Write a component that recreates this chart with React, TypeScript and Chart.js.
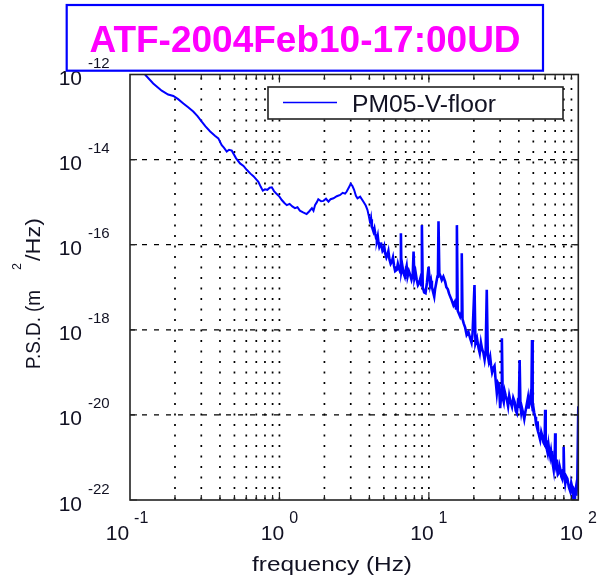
import React, { useEffect, useRef } from 'react';
import { Chart, registerables } from 'chart.js';
Chart.register(...registerables);

const TITLE = 'ATF-2004Feb10-17:00UD';
const SERIES_LABEL = 'PM05-V-floor';
const X_TITLE = 'frequency (Hz)';
const Y_TITLE_A = 'P.S.D. (m';
const Y_TITLE_SUP = '2';
const Y_TITLE_B = '/Hz)';

// frequency (Hz)
const freqs = [
  0.126, 0.143, 0.163, 0.18, 0.195, 0.21, 0.2275, 0.245, 0.265, 0.283,
  0.302, 0.32, 0.344, 0.37, 0.39, 0.411, 0.425, 0.444, 0.46, 0.48,
  0.513, 0.545, 0.575, 0.604, 0.64, 0.67, 0.723, 0.75, 0.774, 0.8,
  0.83, 0.86, 0.889, 0.92, 0.96, 1.0, 1.037, 1.08, 1.12, 1.17,
  1.22, 1.27, 1.32, 1.37, 1.44, 1.52, 1.58, 1.65, 1.69, 1.73,
  1.78, 1.82, 1.9, 1.97, 2.05, 2.13, 2.2, 2.3, 2.42, 2.55,
  2.65, 2.75, 2.82, 2.92, 3.0, 3.08, 3.16, 3.25, 3.33, 3.47,
  3.65, 3.78, 3.88, 3.95, 4.05, 4.1, 4.15, 4.2, 4.26, 4.32,
  4.38, 4.44, 4.49, 4.55, 4.6, 4.66, 4.72, 4.78, 4.85, 4.9,
  4.97, 5.03, 5.1, 5.2, 5.28, 5.36, 5.45, 5.55, 5.65, 5.75,
  5.85, 5.95, 6.1, 6.2, 6.3, 6.45, 6.5, 6.55, 6.65, 6.77,
  6.9, 7.0, 7.1, 7.2, 7.35, 7.5, 7.65, 7.8, 7.9, 8.0,
  8.15, 8.3, 8.45, 8.6, 8.75, 8.9, 8.98, 9.1, 9.3, 9.5,
  9.7, 9.95, 10.2, 10.35, 10.48, 10.65, 10.86, 11.0, 11.2, 11.4,
  11.5, 11.6, 11.75, 12.0, 12.2, 12.5, 12.85, 13.1, 13.4, 13.65,
  13.9, 14.2, 14.6, 14.9, 15.2, 15.4, 15.6, 15.9, 16.2, 16.5,
  16.6, 16.8, 17.1, 17.5, 17.9, 18.4, 18.9, 19.3, 19.6, 20.2,
  20.5, 21.0, 21.5, 21.9, 22.3, 22.7, 23.2, 23.6, 24.0, 24.4,
  24.8, 25.2, 25.7, 26.1, 26.5, 27.0, 27.5, 28.0, 28.5, 29.0,
  29.5, 30.0, 30.5, 30.8, 31.2, 31.7, 32.2, 32.7, 33.3, 33.9,
  34.5, 35.2, 36.0, 36.7, 37.5, 38.1, 38.8, 39.4, 40.0, 40.5,
  41.0, 41.5, 42.0, 42.7, 43.5, 44.4, 45.3, 46.0, 46.5, 47.1,
  47.7, 48.5, 49.0, 49.5, 50.0, 50.7, 51.5, 52.1, 52.8, 53.4,
  54.0, 54.8, 55.6, 56.5, 57.5, 58.5, 59.5, 60.0, 60.5, 61.1,
  61.7, 62.4, 63.2, 64.0, 64.9, 65.7, 66.5, 67.4, 68.4, 69.0,
  69.5, 70.0, 70.5, 71.2, 72.0, 72.9, 73.8, 74.9, 76.0, 77.0,
  78.0, 79.0, 79.8, 80.5, 81.8, 83.1, 84.5, 86.5, 88.4, 89.7,
  91.0, 92.0, 93.0, 94.0, 95.0, 96.0, 97.0, 98.5, 100,
];

// log10 of the PSD (m^2/Hz)
const logPsd = [
  -12.0, -12.21, -12.38, -12.47, -12.505, -12.58, -12.68, -12.77, -12.87, -12.98,
  -13.11, -13.22, -13.34, -13.44, -13.5, -13.66, -13.72, -13.81, -13.77, -13.79,
  -13.97, -14.09, -14.15, -14.24, -14.33, -14.39, -14.52, -14.64, -14.73, -14.7,
  -14.71, -14.66, -14.65, -14.74, -14.81, -14.87, -14.95, -15.02, -15.07, -15.04,
  -15.1, -15.14, -15.12, -15.2, -15.24, -15.28, -15.22, -15.14, -15.2, -15.07,
  -15.0, -14.93, -14.98, -14.97, -14.92, -14.99, -14.93, -14.91, -14.86, -14.83,
  -14.78, -14.8, -14.75, -14.65, -14.57, -14.62, -14.71, -14.85, -14.91, -14.87,
  -14.99, -15.08, -15.18, -15.3, -15.5, -15.4, -15.58, -15.62, -15.69, -15.62,
  -15.75, -15.85, -15.89, -15.8, -15.95, -16.05, -16.0, -15.95, -16.08, -16.15,
  -16.12, -16.05, -16.2, -16.3, -16.24, -16.15, -16.35, -16.45, -16.4, -16.3,
  -16.5, -16.62, -16.59, -16.45, -16.55, -16.65, -15.73, -16.62, -16.5, -16.67,
  -16.75, -16.6, -16.5, -16.75, -16.62, -16.71, -16.82, -16.7, -16.16, -16.78,
  -16.65, -16.83, -16.95, -16.9, -16.8, -16.95, -15.54, -17.0, -17.12, -17.14,
  -16.9, -16.52, -16.95, -16.85, -16.99, -17.1, -17.22, -17.05, -16.9, -16.75,
  -16.7, -15.45, -16.67, -16.75, -16.83, -16.75, -16.87, -17.0, -17.05, -17.15,
  -17.22, -17.3, -17.42, -17.35, -17.5, -15.54, -17.55, -17.62, -17.69, -17.6,
  -16.2, -17.75, -17.85, -17.95, -18.12, -18.05, -18.2, -18.3, -18.1, -16.95,
  -18.32, -18.2, -18.43, -18.55, -18.3, -18.45, -18.55, -18.7, -18.5, -17.06,
  -18.6, -18.75, -18.63, -18.85, -19.0, -18.9, -18.85, -19.2, -19.49, -19.25,
  -19.3, -19.84, -19.5, -18.2, -19.6, -19.7, -19.45, -19.55, -19.65, -19.8,
  -19.55, -19.7, -19.81, -19.6, -19.7, -19.9, -19.96, -19.7, -19.75, -18.71,
  -19.8, -19.95, -19.84, -19.95, -20.1, -19.9, -19.73, -19.6, -19.85, -19.7,
  -19.57, -19.7, -18.24, -19.9, -19.81, -19.95, -20.05, -20.2, -20.28, -20.15,
  -20.4, -20.5, -20.59, -20.4, -20.5, -20.65, -20.7, -19.88, -20.75, -20.6,
  -20.82, -20.9, -20.7, -20.85, -20.98, -20.85, -21.0, -21.15, -21.29, -21.05,
  -21.1, -20.43, -21.2, -21.05, -21.25, -21.4, -21.37, -21.2, -21.3, -21.45,
  -21.5, -21.3, -20.75, -21.4, -21.61, -21.45, -21.5, -21.7, -21.8, -21.6,
  -21.7, -21.85, -22.0, -21.8, -21.85, -21.75, -21.9, -21.53, -19.8,
];

const xMajorTicks = [0.1, 1, 10, 100];
const xMajorExps = ['-1', '0', '1', '2'];
const xGridTicks = [
  0.2, 0.3, 0.4, 0.5, 0.6, 0.7, 0.8, 0.9, 1,
  2, 3, 4, 5, 6, 7, 8, 9, 10,
  20, 30, 40, 50, 60, 70, 80, 90,
];
const yTicks = [1e-12, 1e-14, 1e-16, 1e-18, 1e-20, 1e-22];
const yTickExps = ['-12', '-14', '-16', '-18', '-20', '-22'];

const FONT = "'Liberation Sans', Arial, sans-serif";
const TEXT = '#111122';

function fitText(ctx: CanvasRenderingContext2D, text: string, x: number, y: number, w: number) {
  const m = ctx.measureText(text).width;
  ctx.save();
  ctx.translate(x, y);
  ctx.scale(w / m, 1);
  ctx.textAlign = 'left';
  ctx.fillText(text, 0, 0);
  ctx.restore();
}

const decor = {
  id: 'decor',
  beforeDatasetsDraw(chart: any) {
    const { ctx, chartArea: a, scales } = chart;
    const x = scales.x, y = scales.y;
    ctx.save();
    ctx.strokeStyle = '#000';
    ctx.lineWidth = 1.7;
    ctx.setLineDash([2, 8.5]);
    for (const v of xGridTicks) {
      const px = x.getPixelForValue(v);
      ctx.beginPath();
      ctx.moveTo(px, a.top + 3);
      ctx.lineTo(px, a.bottom);
      ctx.stroke();
    }
    ctx.lineWidth = 1.2;
    ctx.setLineDash([5, 7]);
    for (const v of yTicks) {
      const py = y.getPixelForValue(v);
      if (py <= a.top + 1 || py >= a.bottom - 1) continue;
      ctx.beginPath();
      ctx.moveTo(a.left, py);
      ctx.lineTo(a.right, py);
      ctx.stroke();
    }
    ctx.restore();
  },
  afterDatasetsDraw(chart: any) {
    const { ctx, chartArea: a, scales } = chart;
    const x = scales.x, y = scales.y;
    ctx.save();
    ctx.setLineDash([]);
    ctx.strokeStyle = '#222';
    ctx.lineWidth = 1.6;
    ctx.strokeRect(a.left, a.top, a.right - a.left, a.bottom - a.top);
    ctx.lineWidth = 1.2;
    for (const v of yTicks) {
      const py = y.getPixelForValue(v);
      ctx.beginPath();
      ctx.moveTo(a.left, py); ctx.lineTo(a.left + 7, py);
      ctx.moveTo(a.right, py); ctx.lineTo(a.right - 7, py);
      ctx.stroke();
    }
    for (const v of xGridTicks) {
      const px = x.getPixelForValue(v);
      const len = (v === 1 || v === 10) ? 8 : 5;
      ctx.beginPath();
      ctx.moveTo(px, a.top); ctx.lineTo(px, a.top + len);
      ctx.moveTo(px, a.bottom); ctx.lineTo(px, a.bottom - len);
      ctx.stroke();
    }
    ctx.fillStyle = TEXT;
    ctx.textBaseline = 'alphabetic';
    yTicks.forEach((v, i) => {
      const py = y.getPixelForValue(v);
      ctx.font = `21px ${FONT}`;
      ctx.textAlign = 'right';
      ctx.fillText('10', 82, py + 10.5);
      ctx.font = `15px ${FONT}`;
      ctx.textAlign = 'left';
      ctx.fillText(yTickExps[i], 88, py - 6.5);
    });
    xMajorTicks.forEach((v, i) => {
      const px = x.getPixelForValue(v);
      ctx.font = `21px ${FONT}`;
      const w1 = ctx.measureText('10').width;
      ctx.font = `16px ${FONT}`;
      const w2 = ctx.measureText(xMajorExps[i]).width;
      const gap = 5;
      const start = px - (w1 + gap + w2) / 2 - (i === 0 ? 3 : 0);
      ctx.textAlign = 'left';
      ctx.font = `21px ${FONT}`;
      ctx.fillText('10', start, 540);
      ctx.font = `16px ${FONT}`;
      ctx.fillText(xMajorExps[i], start + w1 + gap, 523);
    });
    ctx.font = `20px ${FONT}`;
    fitText(ctx, X_TITLE, 252, 571, 160);
    ctx.save();
    ctx.translate(40, 0);
    ctx.rotate(-Math.PI / 2);
    ctx.font = `21px ${FONT}`;
    fitText(ctx, Y_TITLE_A, -369, 0, 79);
    ctx.font = `12px ${FONT}`;
    fitText(ctx, Y_TITLE_SUP, -270, -19, 7);
    ctx.font = `21px ${FONT}`;
    fitText(ctx, Y_TITLE_B, -261, 0, 43);
    ctx.restore();
    const lx = 268, ly = 87, lw = 295, lh = 32;
    ctx.fillStyle = '#fff';
    ctx.fillRect(lx, ly, lw, lh);
    ctx.strokeStyle = '#222';
    ctx.lineWidth = 1.6;
    ctx.strokeRect(lx, ly, lw, lh);
    ctx.strokeStyle = '#0000ff';
    ctx.lineWidth = 1.6;
    ctx.beginPath();
    ctx.moveTo(283, 102.5); ctx.lineTo(337, 102.5);
    ctx.stroke();
    ctx.fillStyle = TEXT;
    ctx.font = `23px ${FONT}`;
    fitText(ctx, chart.data.datasets[0].label, 352, 111.7, 144);
    ctx.strokeStyle = '#0000ff';
    ctx.lineWidth = 2.2;
    ctx.strokeRect(66.7, 5, 476.3, 65.7);
    ctx.fillStyle = '#ff00ff';
    ctx.font = `bold 37px ${FONT}`;
    ctx.textAlign = 'center';
    ctx.fillText(TITLE, 305, 51.7);
    ctx.restore();
  },
};

export default function App() {
  const ref = useRef<HTMLCanvasElement>(null);
  useEffect(() => {
    if (!ref.current) return;
    const chart = new Chart(ref.current, {
      type: 'line',
      data: {
        datasets: [
          {
            label: SERIES_LABEL,
            data: freqs.map((f, i) => ({ x: f, y: Math.pow(10, logPsd[i]) })),
            borderColor: '#0000ff',
            borderWidth: 2,
            pointRadius: 0,
            tension: 0,
            fill: false,
            segment: {
              borderWidth: (c: any) => (c.p0.parsed.x >= 4 ? 2.6 : 2),
            },
          },
        ],
      },
      options: {
        responsive: false,
        animation: false,
        devicePixelRatio: 1,
        layout: { padding: { top: 74.5, right: 20.7, left: 0, bottom: 0 } },
        plugins: { legend: { display: false }, tooltip: { enabled: false }, title: { display: false } },
        scales: {
          x: {
            type: 'logarithmic',
            min: 0.1,
            max: 100,
            ticks: { display: false },
            grid: { display: false },
            border: { display: false },
            afterFit: (s: any) => { s.height = 82; },
          },
          y: {
            type: 'logarithmic',
            min: 1e-22,
            max: 1e-12,
            ticks: { display: false },
            grid: { display: false },
            border: { display: false },
            afterFit: (s: any) => { s.width = 130; },
          },
        },
      },
      plugins: [decor],
    } as any);
    return () => chart.destroy();
  }, []);
  return (
    <div style={{ position: 'absolute', left: 0, top: 0, width: 599, height: 582, background: '#fff' }}>
      <canvas ref={ref} width={599} height={582} />
    </div>
  );
}
